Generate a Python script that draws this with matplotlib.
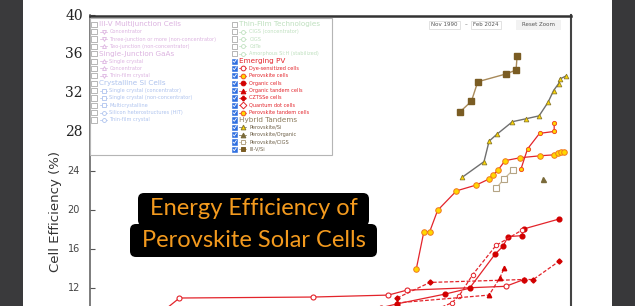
import numpy as np
import matplotlib.pyplot as plt
from matplotlib.patches import Rectangle, FancyBboxPatch

W, H = 635, 306

# ---- data: decimal year, cell efficiency (%)
pero_year = [2013.43, 2013.95, 2014.35, 2014.9, 2016.2, 2017.57, 2018.42, 2018.7,
             2019.05, 2019.55, 2020.6, 2021.97, 2022.94, 2023.17, 2023.4, 2023.6]
pero_eff = [14.0, 17.8, 17.8, 20.0, 22.0, 22.6, 23.2, 23.6,
            24.1, 25.1, 25.4, 25.6, 25.7, 25.9, 26.0, 26.0]

pero_tandem_year = [2020.64, 2021.1, 2021.93, 2022.94, 2022.94]
pero_tandem_eff = [24.2, 26.3, 27.9, 28.1, 29.0]

pero_si_year = [2016.6, 2018.1, 2018.45, 2018.98, 2020.06, 2021.0, 2021.9,
                2022.52, 2022.9, 2023.24, 2023.35, 2023.77]
pero_si_eff = [23.4, 25.0, 27.1, 27.8, 29.1, 29.4, 29.7, 31.1, 32.3, 33.0, 33.5, 33.8]

iiiv_si_year = [2016.44, 2017.23, 2017.67, 2019.62, 2020.31, 2020.38]
iiiv_si_eff = [30.1, 31.2, 33.2, 34.0, 34.4, 35.8]

pero_cigs_year = [2018.96, 2019.46, 2020.08]
pero_cigs_eff = [22.3, 23.2, 24.1]

pero_org_year = [2022.2]
pero_org_eff = [23.2]

dye_year = [1994.5, 1997.09, 2006.3, 2011.5, 2012.76, 2019.6, 2020.85]
dye_eff = [7.9, 11.0, 11.1, 11.3, 11.8, 12.2, 12.9]

organic_year = [2011.0, 2012.1, 2015.4, 2017.1, 2018.86, 2019.4, 2019.76, 2020.7, 2020.86, 2023.26]
organic_eff = [10.0, 10.4, 11.4, 12.0, 15.5, 16.3, 17.3, 17.4, 18.1, 19.1]

qd_year = [2014.9, 2015.87, 2016.37, 2017.32, 2018.93, 2020.75]
qd_eff = [9.9, 10.5, 11.2, 13.4, 16.4, 18.0]

cztsse_year = [2012.1, 2014.37, 2020.86, 2021.5, 2023.3]
cztsse_eff = [11.0, 12.6, 12.9, 12.9, 14.8]

org_tandem_year = [2012.1, 2018.45, 2019.2, 2019.5]
org_tandem_eff = [10.5, 11.3, 13.1, 14.1]

y_ticks = [12, 16, 20, 24, 28, 32, 36, 40]

left_items = [
    ("III-V Multijunction Cells", None),
    ("Concentrator", "v"),
    ("Three-junction or more (non-concentrator)", "v"),
    ("Two-junction (non-concentrator)", "^"),
    ("Single-Junction GaAs", None),
    ("Single crystal", "^"),
    ("Concentrator", "^"),
    ("Thin-film crystal", "v"),
    ("Crystalline Si Cells", None),
    ("Single crystal (concentrator)", "s"),
    ("Single crystal (non-concentrator)", "s"),
    ("Multicrystalline", "s"),
    ("Silicon heterostructures (HIT)", "o"),
    ("Thin-film crystal", "o"),
]
right_items = [
    ("Thin-Film Technologies", None),
    ("CIGS (concentrator)", "o"),
    ("CIGS", "o"),
    ("CdTe", "o"),
    ("Amorphous Si:H (stabilized)", "o"),
    ("Emerging PV", None),
    ("Dye-sensitized cells", "o"),
    ("Perovskite cells", "o"),
    ("Organic cells", "o"),
    ("Organic tandem cells", "^"),
    ("CZTSSe cells", "P"),
    ("Quantum dot cells", "D"),
    ("Perovskite tandem cells", "o"),
    ("Hybrid Tandems", None),
    ("Perovskite/Si", "^"),
    ("Perovskite/Organic", "^"),
    ("Perovskite/CIGS", "s"),
    ("III-V/Si", "s"),
]

RED = "#e3242b"
DRED = "#d10000"
YEL = "#ffd800"

fig = plt.figure(figsize=(W / 100, H / 100), dpi=100)
fig.patch.set_facecolor("white")

# main axes in pixel layout: x 90..571, top at 15.5, bottom cut by figure
ax = fig.add_axes([90 / W, 0, (571 - 90) / W, 1 - 15.5 / H])
ax.set_xlim(1990.92, 2024.1)
ax.set_ylim(10.18, 40)
ax.set_xticks([])
ax.set_yticks(y_ticks)
ax.tick_params(axis="y", direction="in", length=3.6, width=0.8, color="#555555", labelleft=False)
ax.spines["bottom"].set_visible(False)
ax.spines["left"].set_color("#666666")
ax.spines["left"].set_linewidth(1.2)
ax.spines["top"].set_color("#333333")
ax.spines["top"].set_linewidth(1.8)
ax.spines["right"].set_color("#444444")
ax.spines["right"].set_linewidth(1.5)

for t in y_ticks:
    if t >= 28:
        ax.text(-0.015, t, str(t), transform=ax.get_yaxis_transform(), ha="right", va="center",
                fontsize=10, family="DejaVu Serif", color="#222222")
    else:
        ax.text(-0.021, t, str(t), transform=ax.get_yaxis_transform(), ha="right", va="center",
                fontsize=7, color="#444444")

# emerging PV
ax.plot(dye_year, dye_eff, "-o", color=RED, lw=0.9, ms=3.6, mfc="white", mec=RED, mew=0.8)
ax.plot(organic_year, organic_eff, "-o", color=RED, lw=0.9, ms=3.4, mfc=DRED, mec=DRED)
ax.plot(qd_year, qd_eff, "--o", color=RED, lw=0.9, ms=3.2, mfc="white", mec=RED, mew=0.7,
        dashes=(3, 1.5))
ax.plot(cztsse_year, cztsse_eff, "--D", color=RED, lw=0.9, ms=2.6, mfc=DRED, mec=DRED,
        dashes=(3, 1.5))
ax.plot(org_tandem_year, org_tandem_eff, "--^", color=RED, lw=0.9, ms=3.2, mfc=DRED, mec=DRED,
        dashes=(3, 1.5))
ax.plot(pero_year, pero_eff, "-o", color=RED, lw=0.9, ms=4, mfc=YEL, mec="#f07820", mew=0.7)
ax.plot(pero_tandem_year, pero_tandem_eff, "-o", color=RED, lw=0.9, ms=3, mfc=YEL,
        mec="#f05020", mew=0.7)

# hybrid tandems
ax.plot(pero_si_year, pero_si_eff, "-^", color="#6f6f6f", lw=1, ms=3.4, mfc=YEL,
        mec="#8b7a2e", mew=0.6)
ax.plot(iiiv_si_year, iiiv_si_eff, "-s", color="#a88a5a", lw=1, ms=4.2, mfc="#7a5c23",
        mec="#7a5c23")
ax.plot(pero_cigs_year, pero_cigs_eff, "-s", color="#c8b898", lw=0.9, ms=4.2, mfc="white",
        mec="#b5a485", mew=0.8)
ax.plot(pero_org_year, pero_org_eff, "^", ms=3.6, mfc="#7a6a3a", mec="#7a6a3a")

# ---- pixel overlay for the page decorations
ov = fig.add_axes([0, 0, 1, 1], zorder=5)
ov.set_xlim(0, W)
ov.set_ylim(H, 0)
ov.axis("off")

ov.add_patch(Rectangle((0, 0), 23, H, fc="#3a3a3c", ec="none"))
ov.add_patch(Rectangle((612, 0), 23, H, fc="#38383a", ec="none"))

ov.text(55, 211, "Cell Efficiency (%)", rotation=90, ha="center", va="center",
        fontsize=9.5, color="#333333")

# date range + reset zoom
ov.add_patch(Rectangle((429, 20.5), 31, 8.5, fc="white", ec="#dddddd", lw=0.6))
ov.text(444.5, 24.8, "Nov 1990", fontsize=4, ha="center", va="center", color="#555555")
ov.text(465.7, 24.8, "–", fontsize=4, ha="center", va="center", color="#555555")
ov.add_patch(Rectangle((471, 20.5), 30, 8.5, fc="white", ec="#dddddd", lw=0.6))
ov.text(486, 24.8, "Feb 2024", fontsize=4, ha="center", va="center", color="#555555")
ov.add_patch(Rectangle((516, 19.5), 45, 10, fc="#f2f2f2", ec="none"))
ov.text(538.5, 24.5, "Reset Zoom", fontsize=4, ha="center", va="center", color="#555555")

# legend panel
ov.add_patch(Rectangle((90, 18), 242, 137, fc="white", ec="#b5b5b5", lw=0.8))


def checkbox(x, y, checked):
    if checked:
        ov.add_patch(Rectangle((x - 2.6, y - 2.6), 5.2, 5.2, fc="#2f6fe0", ec="#2f6fe0", lw=0.4))
        ov.plot([x - 1.5, x - 0.4, x + 1.6], [y + 0.1, y + 1.3, y - 1.5], color="white", lw=0.6)
    else:
        ov.add_patch(Rectangle((x - 2.6, y - 2.6), 5.2, 5.2, fc="white", ec="#9a9a9a", lw=0.5))


row0, step = 24.3, 7.36
for i, (label, mk) in enumerate(left_items):
    y = row0 + i * step
    col = "#dcb3e0" if i < 8 else "#aec3ee"
    checkbox(94, y, False)
    if mk is None:
        ov.text(99.3, y, label, fontsize=5.2, color=col, va="center", ha="left")
    else:
        ov.plot([100, 107], [y, y], color=col, lw=0.5)
        ov.plot(103.5, y, marker=mk, ms=2.8, mfc="white", mec=col, mew=0.6)
        ov.text(109.3, y, label, fontsize=3.6, color=col, va="center", ha="left")

hybrid_style = {
    "Perovskite/Si": (YEL, "#8b7a2e", "#6f6f6f"),
    "Perovskite/Organic": ("#7a6a3a", "#7a6a3a", "#7a6a3a"),
    "Perovskite/CIGS": ("white", "#b5a485", "#c8b898"),
    "III-V/Si": ("#7a5c23", "#7a5c23", "#a88a5a"),
}
emerging_style = {
    "Dye-sensitized cells": ("white", RED),
    "Perovskite cells": (YEL, "#f05020"),
    "Organic cells": (DRED, DRED),
    "Organic tandem cells": (DRED, DRED),
    "CZTSSe cells": (DRED, DRED),
    "Quantum dot cells": ("white", RED),
    "Perovskite tandem cells": (YEL, "#f05020"),
}
for i, (label, mk) in enumerate(right_items):
    y = row0 + i * step
    if i < 5:
        col, checked = "#bfe0bf", False
    elif i < 13:
        col, checked = RED, True
    else:
        col, checked = "#8b7b5b", True
    checkbox(234.7, y, checked)
    if mk is None:
        ov.text(239.3, y, label, fontsize=5.2, color=col, va="center", ha="left")
        continue
    if label in emerging_style:
        fc, ec = emerging_style[label]
        ov.plot([239, 246], [y, y], color=RED, lw=0.5)
        ov.plot(242.5, y, marker=mk, ms=3.4, mfc=fc, mec=ec, mew=0.7)
        tcol = RED
    elif label in hybrid_style:
        fc, ec, lc = hybrid_style[label]
        ov.plot([239, 246], [y, y], color=lc, lw=0.5)
        ov.plot(242.5, y, marker=mk, ms=3.4, mfc=fc, mec=ec, mew=0.7)
        tcol = "#6e6048"
    else:
        ov.plot([239, 246], [y, y], color=col, lw=0.5)
        ov.plot(242.5, y, marker=mk, ms=2.8, mfc="white", mec=col, mew=0.6)
        tcol = col
    ov.text(249.3, y, label, fontsize=3.6, color=tcol, va="center", ha="left")

# title overlay
ov.add_patch(FancyBboxPatch((138, 193), 231, 33, boxstyle="round,pad=0,rounding_size=6",
                            fc="black", ec="none"))
ov.add_patch(FancyBboxPatch((130, 224), 247, 33, boxstyle="round,pad=0,rounding_size=6",
                            fc="black", ec="none"))
ov.text(253.5, 208.5, "Energy Efficiency of", fontsize=17, family="Lato", color="#f39a1e",
        ha="center", va="center")
ov.text(253.5, 240.5, "Perovskite Solar Cells", fontsize=17, family="Lato", color="#f39a1e",
        ha="center", va="center")

fig.savefig("out.png", dpi=100)
